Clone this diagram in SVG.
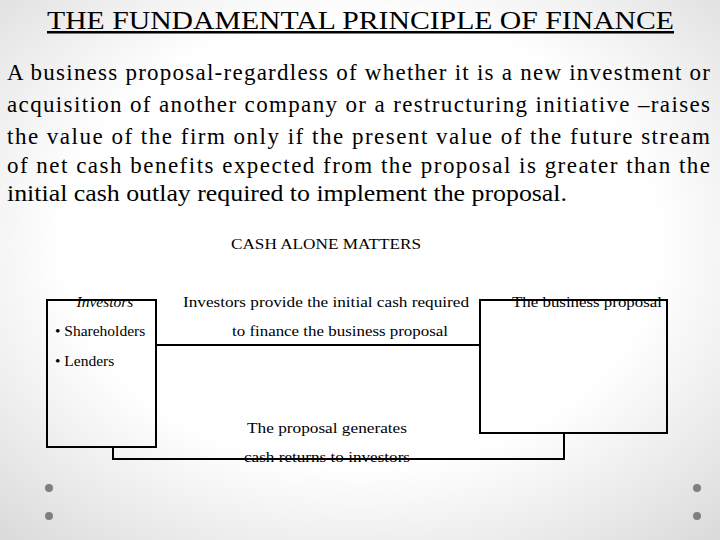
<svg xmlns="http://www.w3.org/2000/svg" width="720" height="540" viewBox="0 0 720 540">
<defs>
<radialGradient id="bg" cx="50%" cy="45%" r="75%"><stop offset="0.55" stop-color="#ffffff"/><stop offset="1" stop-color="#d9d9d9"/></radialGradient>
<style>
text{font-family:'Liberation Serif','Times New Roman','DejaVu Serif',serif;fill:#000}
.s{font-size:15.5px}
.b{fill:none;stroke:#000;stroke-width:2}
.dot{fill:#7f7f7f}
</style>
</defs>
<rect width="720" height="540" fill="url(#bg)"/>
<g class="dot"><circle cx="49" cy="488" r="4"/><circle cx="49" cy="516" r="4"/><circle cx="697" cy="488" r="4"/><circle cx="697" cy="516" r="4"/></g>
<text x="47" y="29" font-size="25" textLength="627" lengthAdjust="spacingAndGlyphs" text-decoration="underline">THE FUNDAMENTAL PRINCIPLE OF FINANCE</text>
<g font-size="23">
<text x="7" y="80" textLength="703" lengthAdjust="spacing">A business proposal-regardless of whether it is a new investment or</text>
<text x="7" y="112" textLength="703" lengthAdjust="spacing">acquisition of another company or a restructuring initiative –raises</text>
<text x="7" y="144" textLength="703" lengthAdjust="spacing">the value of the firm only if the present value of the future stream</text>
<text x="7" y="173" textLength="703" lengthAdjust="spacing">of net cash benefits expected from the proposal is greater than the</text>
<text x="7" y="201" textLength="560" lengthAdjust="spacingAndGlyphs">initial cash outlay required to implement the proposal.</text>
</g>
<text class="s" x="326" y="249" text-anchor="middle" textLength="190" lengthAdjust="spacingAndGlyphs">CASH ALONE MATTERS</text>
<g id="investors">
<rect class="b" x="47" y="300" width="109" height="147"/>
<text class="s" x="105" y="307" text-anchor="middle" font-style="italic">Investors</text>
<text class="s" x="55" y="336">• Shareholders</text>
<text class="s" x="55" y="366">• Lenders</text>
</g>
<g id="proposal">
<rect class="b" x="480" y="300" width="187" height="133"/>
<text class="s" x="587" y="307" text-anchor="middle" textLength="150" lengthAdjust="spacingAndGlyphs">The business proposal</text>
</g>
<g id="connectors">
<path class="b" d="M156 345H480"/>
<path class="b" d="M564 433V459H113V447"/>
<text class="s" x="326" y="307" text-anchor="middle" textLength="286" lengthAdjust="spacingAndGlyphs">Investors provide the initial cash required</text>
<text class="s" x="340" y="336" text-anchor="middle" textLength="216" lengthAdjust="spacingAndGlyphs">to finance the business proposal</text>
<text class="s" x="327" y="433" text-anchor="middle" textLength="160" lengthAdjust="spacingAndGlyphs">The proposal generates</text>
<text class="s" x="327" y="462" text-anchor="middle" textLength="166" lengthAdjust="spacingAndGlyphs">cash returns to investors</text>
</g>
</svg>
